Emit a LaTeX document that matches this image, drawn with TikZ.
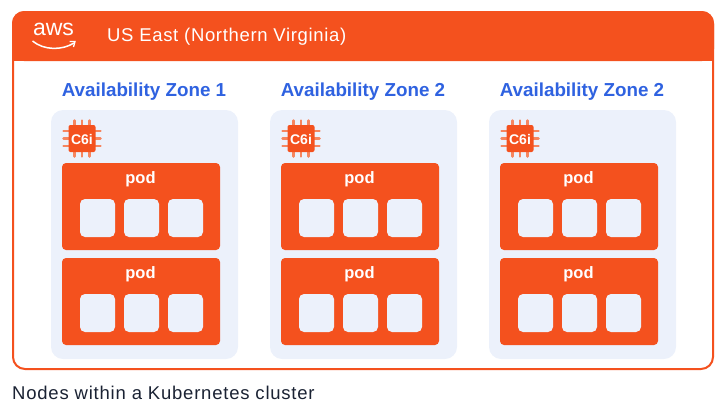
\documentclass[tikz,border=0pt]{standalone}
\usepackage{fontspec}
\setmainfont{Liberation Sans}
\definecolor{awsorange}{HTML}{F4511E}
\definecolor{zoneblue}{HTML}{2F62E0}
\definecolor{zonefill}{HTML}{ECF1FB}
\definecolor{captiongray}{HTML}{1A2233}
\definecolor{pinorange}{HTML}{F6855F}
\newfontface\regionfont[LetterSpace=3.6]{Liberation Sans}
\newfontface\captionfont[LetterSpace=4.2]{Liberation Sans}
\tikzset{
    zonebox/.style={fill=zonefill,rounded corners=12pt},
    podbox/.style={fill=awsorange,rounded corners=4pt},
    slotbox/.style={fill=zonefill,rounded corners=5pt},
    chippin/.style={pinorange,line width=2.5pt,line cap=round}
}
\begin{document}
\begin{tikzpicture}[x=1pt,y=-1pt]
    \useasboundingbox (0,0) rectangle (725,410);

    % Region frame and its header
    \draw[awsorange,line width=2pt,rounded corners=12pt] (13,12) rectangle (713,369);
    \fill[awsorange,rounded corners=12pt] (12,11) -- (12,61) -- (714,61) -- (714,11) -- cycle;
    \fill[awsorange] (12,30) rectangle (714,61);
    \node[white,inner sep=0pt,anchor=center,font=\fontsize{23}{23}\selectfont] (logo) at (53.5,29.5) {aws};
    \draw[white,line width=1.5pt] (32.5,41) .. controls (44,50.5) and (62,50.5) .. (74,43);
    \draw[white,line width=1.3pt] (69.5,41.5) -- (75,41.5) -- (73.5,47);
    \node[white,inner sep=0pt,anchor=west,font=\fontsize{18.5}{18.5}\regionfont] (region) at (107,37) {US East (Northern Virginia)};

    % Availability zones with their instance and pods
    \foreach \zone/\label [count=\i from 1] in {0/1,219/2,438/2} {
        \begin{scope}[xshift=\zone pt]
            \node[zoneblue,inner sep=0pt,font=\fontsize{18.8}{18.8}\bfseries\selectfont] (zone\i) at (144,91.5) {Availability Zone \label};
            \fill[zonebox] (51,110) rectangle (238,359);
            % Chip pins on all four sides
            \foreach \offset in {-7.5,0,7.5} {
                \draw[chippin] ({82+\offset},120.5) -- ({82+\offset},156.5);
                \draw[chippin] (63.5,{138.5+\offset}) -- (100.5,{138.5+\offset});
            }
            \fill[awsorange,rounded corners=2pt] (68.5,125) rectangle (95.5,152);
            \node[white,inner sep=0pt,font=\fontsize{14}{14}\bfseries\selectfont] (chip\i) at (82,139) {C6i};
            \foreach \ytop [count=\j from 1] in {163,258} {
                \fill[podbox] (62,\ytop) rectangle (220,{\ytop+87});
                \node[white,inner sep=0pt,font=\fontsize{16.5}{16.5}\bfseries\selectfont] (pod\i\j) at (140.5,{\ytop+16.5}) {pod};
                \foreach \xleft in {80,124,168} {
                    \fill[slotbox] (\xleft,{\ytop+36}) rectangle ({\xleft+35},{\ytop+74});
                }
            }
        \end{scope}
    }

    \node[captiongray,inner sep=0pt,anchor=west,font=\fontsize{18.5}{18.5}\captionfont] (caption) at (12,393) {Nodes within a Kubernetes cluster};
\end{tikzpicture}
\end{document}
